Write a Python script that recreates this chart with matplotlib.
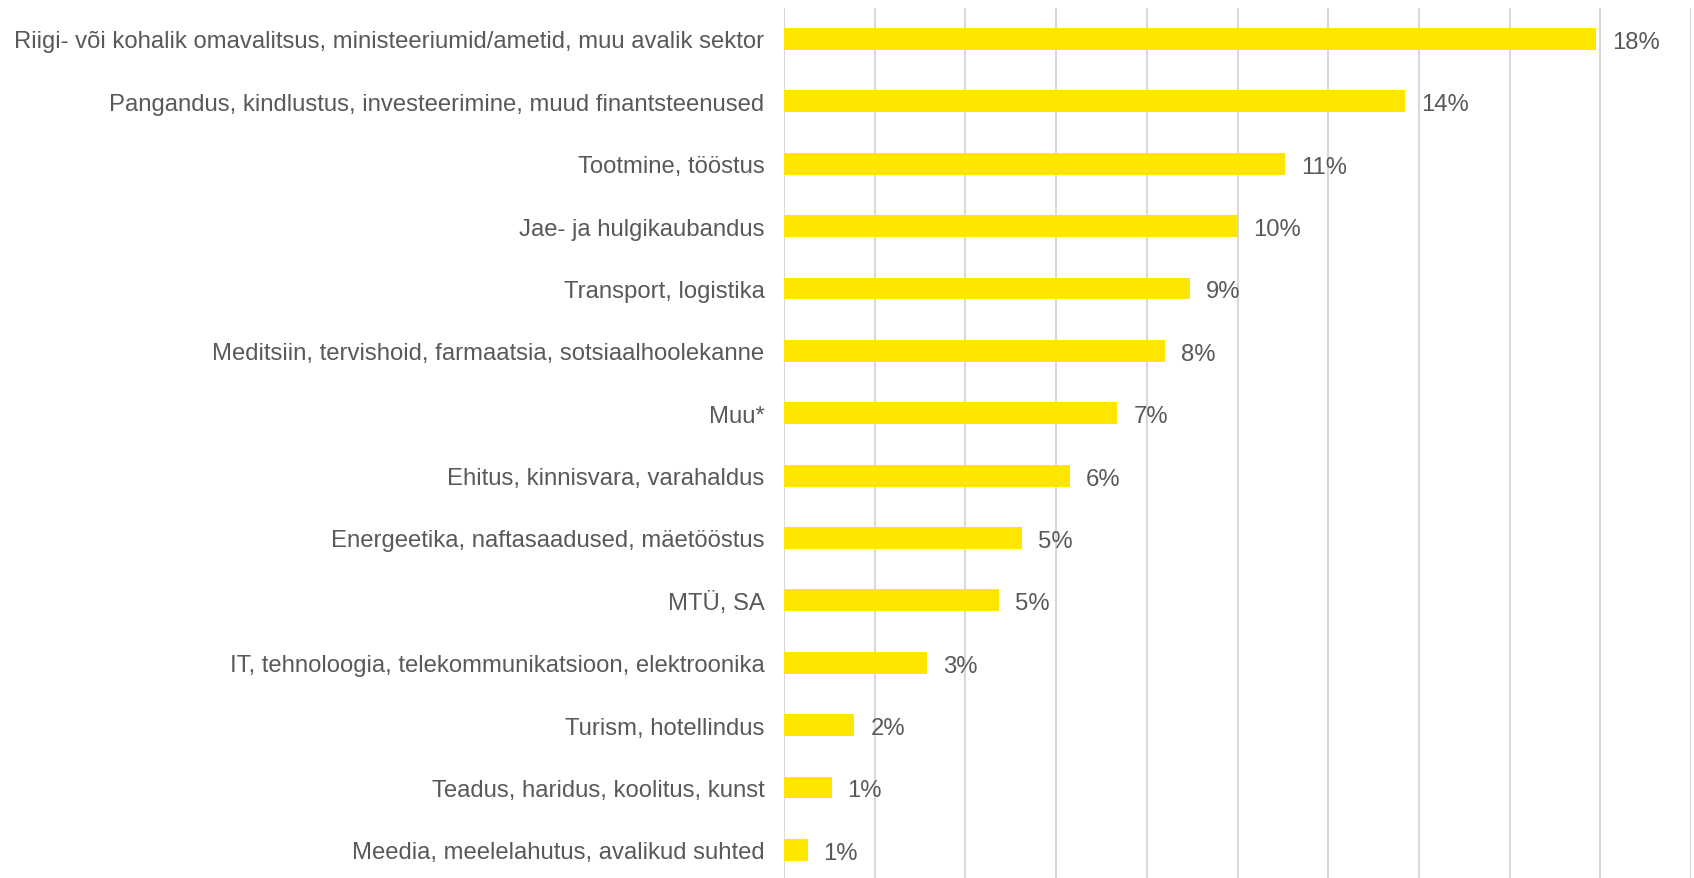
import matplotlib
matplotlib.use("Agg")
import matplotlib.pyplot as plt
import numpy as np

categories = [
    "Riigi- või kohalik omavalitsus, ministeeriumid/ametid, muu avalik sektor",
    "Pangandus, kindlustus, investeerimine, muud finantsteenused",
    "Tootmine, tööstus",
    "Jae- ja hulgikaubandus",
    "Transport, logistika",
    "Meditsiin, tervishoid, farmaatsia, sotsiaalhoolekanne",
    "Muu*",
    "Ehitus, kinnisvara, varahaldus",
    "Energeetika, naftasaadused, mäetööstus",
    "MTÜ, SA",
    "IT, tehnoloogia, telekommunikatsioon, elektroonika",
    "Turism, hotellindus",
    "Teadus, haridus, koolitus, kunst",
    "Meedia, meelelahutus, avalikud suhted",
]
values = [17.9, 13.7, 11.05, 10.0, 8.95, 8.4, 7.35, 6.3, 5.25, 4.75, 3.15, 1.55, 1.05, 0.52]
labels = ["18%", "14%", "11%", "10%", "9%", "8%", "7%", "6%", "5%", "5%", "3%", "2%", "1%", "1%"]

plt.rcParams['font.family'] = ['Liberation Sans', 'DejaVu Sans']
text_color = "#595959"

W, H = 1694, 879
fig = plt.figure(figsize=(W / 100, H / 100), dpi=100)
top_px, bot_px = 8.8, 882.0
ax = fig.add_axes([784 / W, 1 - bot_px / H, (1691 - 784) / W, (bot_px - top_px) / H])

y = np.arange(len(categories))
ax.barh(y, values, height=0.35, color="#FFE600", zorder=3)
ax.set_ylim(len(categories) - 0.5, -0.5)
ax.set_xlim(0, 20)
ax.set_xticks(np.arange(0, 21, 2))
ax.set_xticklabels([])
ax.tick_params(axis='x', length=0)
ax.xaxis.grid(True, color="#D9D9D9", linewidth=1.5, zorder=0)
ax.set_yticks(y)
ax.set_yticklabels(categories, fontsize=17.2, color=text_color)
ax.tick_params(axis='y', length=0, pad=14)
for s in ax.spines.values():
    s.set_visible(False)

for yi, v, lab in zip(y, values, labels):
    ax.annotate(lab, (v, yi), xytext=(16, -3), textcoords='offset pixels',
                va='center', ha='left', fontsize=17.2, color=text_color)

fig.savefig("out.png", dpi=100)
